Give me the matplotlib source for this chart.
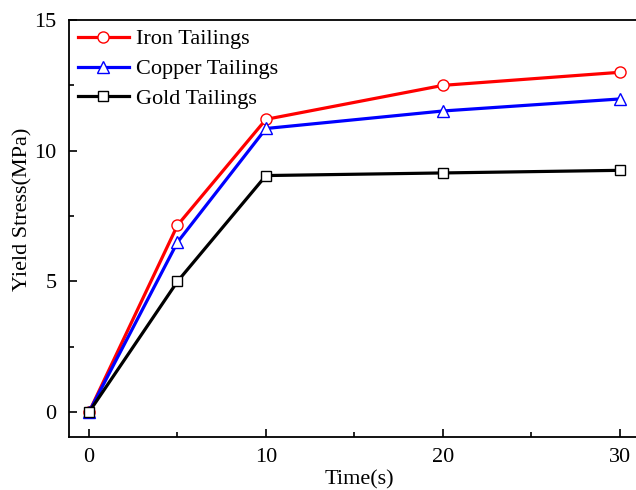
import matplotlib
matplotlib.use("Agg")
import matplotlib.pyplot as plt
from matplotlib.ticker import MultipleLocator

plt.rcParams['font.family'] = ['Liberation Serif', 'DejaVu Serif']

tempo = [0, 5, 10, 20, 30]
ferro = [0, 7.15, 11.2, 12.5, 13.0]
cobre = [0, 6.5, 10.85, 11.52, 11.98]
ouro = [0, 5.0, 9.05, 9.15, 9.25]

fig = plt.figure(figsize=(6.36, 4.9), dpi=100)
ax = fig.add_axes([69/636, 53/490, (650-69)/636, (437-20)/490])

ax.plot(tempo, ferro, color='red', lw=2.3, marker='o', ms=8, mfc='white', mec='red', mew=1, label='Iron Tailings', zorder=3)
ax.plot(tempo, cobre, color='blue', lw=2.3, marker='^', ms=8, mfc='white', mec='blue', mew=1, label='Copper Tailings', zorder=3)
ax.plot(tempo, ouro, color='black', lw=2.3, marker='s', ms=7, mfc='white', mec='black', mew=1, label='Gold Tailings', zorder=3)

ax.set_xlim(-1.13, 31.7)
ax.set_ylim(-0.95, 15)
ax.xaxis.set_major_locator(MultipleLocator(10))
ax.xaxis.set_minor_locator(MultipleLocator(5))
ax.yaxis.set_major_locator(MultipleLocator(5))
ax.yaxis.set_minor_locator(MultipleLocator(2.5))
ax.tick_params(which='both', direction='in', labelsize=16, width=1.2)
ax.tick_params(which='major', length=6)
ax.tick_params(axis='y', which='major', pad=9)
ax.tick_params(axis='x', which='major', pad=8)
ax.tick_params(which='minor', length=3.5)
for s in ax.spines.values():
    s.set_linewidth(1.3)
# no original o eixo direito nao aparece
ax.spines['right'].set_visible(False)

ax.set_xlabel('Time(s)', fontsize=16, labelpad=2)
ax.set_ylabel('Yield Stress(MPa)', fontsize=16)
ax.yaxis.set_label_coords(-0.062, 0.545)

ax.legend(loc='upper left', frameon=False, fontsize=16, handlelength=2.3,
          handletextpad=0.3, borderaxespad=0.15, labelspacing=0.42, borderpad=0.25)

fig.savefig('out.png', dpi=100)
